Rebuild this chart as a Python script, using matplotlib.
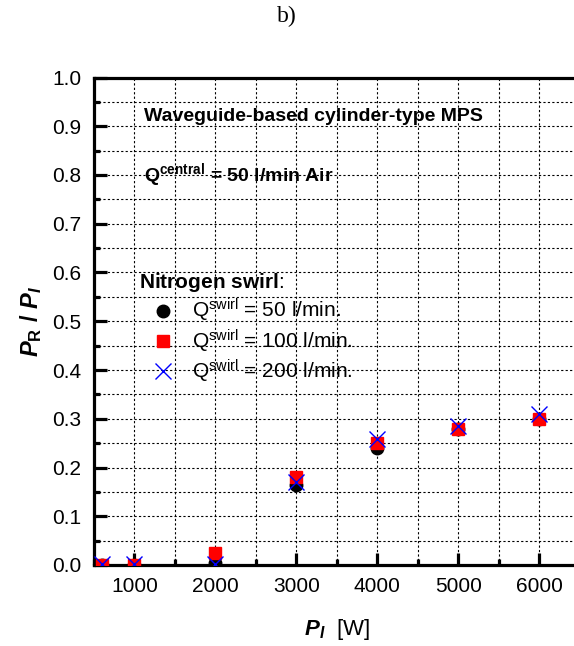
import matplotlib
matplotlib.use("Agg")
import matplotlib.pyplot as plt
from matplotlib.ticker import MultipleLocator, FormatStrFormatter
from matplotlib.lines import Line2D

plt.rcParams['font.family'] = ['Liberation Sans', 'DejaVu Sans']
plt.rcParams['mathtext.fontset'] = 'custom'
plt.rcParams['mathtext.rm'] = 'Liberation Sans'
plt.rcParams['mathtext.it'] = 'Liberation Sans:italic'
plt.rcParams['mathtext.bf'] = 'Liberation Sans:bold'
plt.rcParams['mathtext.bfit'] = 'Liberation Sans:bold:italic'

# Data
power_w = [600, 1000, 2000, 3000, 4000, 5000, 6000]
ratio_50 = [0.0, 0.0, 0.005, 0.164, 0.241, 0.280, 0.300]
ratio_100 = [0.0, 0.0, 0.024, 0.180, 0.250, 0.279, 0.300]
ratio_200 = [0.003, 0.003, 0.003, 0.171, 0.259, 0.286, 0.310]
series_labels = [r"Q$^{\rm swirl}$ = 50 l/min.",
                 r"Q$^{\rm swirl}$ = 100 l/min.",
                 r"Q$^{\rm swirl}$ = 200 l/min."]

fig = plt.figure(figsize=(5.74, 6.46), dpi=100)
ax = fig.add_axes([94/574, 81/646, (579.5-94)/574, (565-77.5)/646])

ax.plot(power_w, ratio_50, linestyle='none', marker='o', ms=9, color='black', zorder=3)
ax.plot(power_w, ratio_100, linestyle='none', marker='s', ms=8, color='red', zorder=4)
ax.plot(power_w, ratio_200, linestyle='none', marker='x', ms=11, mew=1.0, color='blue', zorder=5)

ax.set_xlim(500, 6500)
ax.set_ylim(0, 1.0)
ax.xaxis.set_major_locator(MultipleLocator(1000))
ax.xaxis.set_minor_locator(MultipleLocator(500))
ax.yaxis.set_major_locator(MultipleLocator(0.1))
ax.yaxis.set_minor_locator(MultipleLocator(0.05))
ax.yaxis.set_major_formatter(FormatStrFormatter('%.1f'))
ax.set_xticks([1000, 2000, 3000, 4000, 5000, 6000])

ax.grid(True, which='both', color='black', linestyle=(0, (2, 2)), linewidth=0.8)
ax.set_axisbelow(True)

for s in ax.spines.values():
    s.set_linewidth(2.3)
ax.tick_params(which='major', direction='in', length=9, width=2.3, labelsize=15, pad=9)
ax.tick_params(which='minor', direction='in', length=4.5, width=2.3)
ax.tick_params(top=False, right=False, which='both')

ax.set_ylabel(r'$\mathbfit{P}_{\mathbf{R}}\ \mathbf{/}\ \mathbfit{P}_{\mathbfit{I}}$', fontsize=17, labelpad=6)
ax.set_xlabel(r'$\mathbfit{P}_{\mathbfit{I}}$  [W]', fontsize=16, labelpad=15)

ax.text(1120, 0.921, 'Waveguide-based cylinder-type MPS', fontsize=14, fontweight='bold',
        va='center', ha='left')
ax.text(1120, 0.80, r'Q$^{\mathbf{central}}$ = 50 l/min Air', fontsize=14, fontweight='bold',
        va='center', ha='left')

handles = [Line2D([], [], linestyle='none', marker='o', ms=9, color='black'),
           Line2D([], [], linestyle='none', marker='s', ms=8, color='red'),
           Line2D([], [], linestyle='none', marker='x', ms=11, mew=1.0, color='blue')]
leg = ax.legend(handles, series_labels, title=r'$\mathbf{Nitrogen\ swirl}$:',
                loc='upper left', bbox_to_anchor=(0.075, 0.62), frameon=False,
                fontsize=15, title_fontsize=15, alignment='left',
                handlelength=2.3, handletextpad=0.25, labelspacing=0.15, borderaxespad=0)

fig.text(0.5, 1 - 16/646, 'b)', fontsize=17, family='Liberation Serif', ha='center', va='center')

fig.savefig('out.png', dpi=100)
